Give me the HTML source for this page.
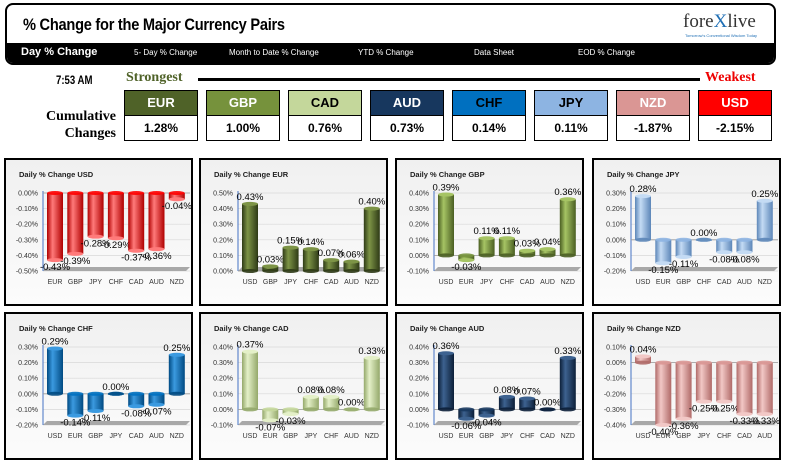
<!DOCTYPE html>
<html><head><meta charset="utf-8">
<style>
body{margin:0;width:793px;height:464px;background:#fff;position:relative;overflow:hidden;font-family:"Liberation Sans",sans-serif}
.abs{position:absolute}
#hdr{left:5px;top:3px;width:767px;height:58px;border:2px solid #000;border-radius:8px;overflow:hidden;background:#fff}
#title{left:16px;top:10px;font-weight:bold;font-size:17px;transform:scaleX(0.86);transform-origin:left;white-space:nowrap;letter-spacing:-0.3px}
#nav{left:0;top:38px;width:767px;height:20px;background:#000;color:#fff}
.nv{position:absolute;top:5px;font-size:8px;white-space:nowrap}
.box{position:absolute;width:72px;border:1px solid #000;text-align:center;font-weight:bold}
.bh{top:90px;height:24px;line-height:24px;font-size:13px}
.bv{top:115px;height:24px;line-height:24px;font-size:12px;background:#fff;color:#000}
</style></head><body>
<div id="hdr" class="abs">
 <div id="title" class="abs">% Change for the Major Currency Pairs</div>
 <div class="abs" style="left:676px;top:6px;font-family:'Liberation Serif',serif;font-size:19px;color:#333">fore<span style="color:#1f6fb5">X</span>live</div>
 <div class="abs" style="left:678px;top:28px;font-size:4px;color:#1f6fb5">Tomorrow's Conventional Wisdom Today</div>
 <div id="nav" class="abs">
  <span class="nv" style="left:14px;top:3px;font-size:11px;font-weight:bold">Day % Change</span>
  <span class="nv" style="left:127px">5- Day % Change</span>
  <span class="nv" style="left:222px">Month to Date % Change</span>
  <span class="nv" style="left:351px">YTD % Change</span>
  <span class="nv" style="left:467px">Data Sheet</span>
  <span class="nv" style="left:571px">EOD % Change</span>
 </div>
</div>
<div class="abs" style="left:56px;top:73px;font-weight:bold;font-size:12px;transform:scaleX(0.8);transform-origin:left">7:53 AM</div>
<div class="abs" style="left:126px;top:70px;font-weight:bold;font-size:14px;color:#4f6228;font-family:'Liberation Serif',serif">Strongest</div>
<div class="abs" style="left:198px;top:78px;width:502px;height:3px;background:#000"></div>
<div class="abs" style="left:705px;top:70px;font-weight:bold;font-size:14px;color:#e00;font-family:'Liberation Serif',serif">Weakest</div>
<div class="abs" style="left:20px;top:108px;width:96px;text-align:right;font-weight:bold;font-size:14px;line-height:17px;font-family:'Liberation Serif',serif">Cumulative<br>Changes</div>
<div id="boxes"></div>
<svg id="charts" class="abs" style="left:0;top:0" width="793" height="464"></svg>
<script>
const boxCur=["EUR","GBP","CAD","AUD","CHF","JPY","NZD","USD"];
const boxVals=["1.28%","1.00%","0.76%","0.73%","0.14%","0.11%","-1.87%","-2.15%"];
const boxBg=["#4f6228","#76923c","#c4d79b","#17375e","#0070c0","#8db4e2","#da9694","#ff0000"];
const boxFg=["#fff","#fff","#000","#fff","#000","#000","#fff","#fff"];
const bx=document.getElementById('boxes');
boxCur.forEach((c,i)=>{
 const h=document.createElement('div');h.className='box bh';h.style.left=(124+i*82)+'px';h.style.background=boxBg[i];h.style.color=boxFg[i];h.textContent=c;
 
 
 bx.appendChild(h);
 const v=document.createElement('div');v.className='box bv';v.style.left=(124+i*82)+'px';v.textContent=boxVals[i];
 
 
 bx.appendChild(v);
});

const usdCats=["EUR","GBP","JPY","CHF","CAD","AUD","NZD"];
const usdVals=[-0.43,-0.39,-0.28,-0.29,-0.37,-0.36,-0.04];
const eurCats=["USD","GBP","JPY","CHF","CAD","AUD","NZD"];
const eurVals=[0.43,0.03,0.15,0.14,0.07,0.06,0.40];
const gbpCats=["USD","EUR","JPY","CHF","CAD","AUD","NZD"];
const gbpVals=[0.39,-0.03,0.11,0.11,0.03,0.04,0.36];
const jpyCats=["USD","EUR","GBP","CHF","CAD","AUD","NZD"];
const jpyVals=[0.28,-0.15,-0.11,0.00,-0.08,-0.08,0.25];
const chfCats=["USD","EUR","GBP","JPY","CAD","AUD","NZD"];
const chfVals=[0.29,-0.14,-0.11,0.00,-0.08,-0.07,0.25];
const cadCats=["USD","EUR","GBP","JPY","CHF","AUD","NZD"];
const cadVals=[0.37,-0.07,-0.03,0.08,0.08,0.00,0.33];
const audCats=["USD","EUR","GBP","JPY","CHF","CAD","NZD"];
const audVals=[0.36,-0.06,-0.04,0.08,0.07,0.00,0.33];
const nzdCats=["USD","EUR","GBP","JPY","CHF","CAD","AUD"];
const nzdVals=[0.04,-0.40,-0.36,-0.25,-0.25,-0.33,-0.33];
const axisMin=[-0.5,0,-0.1,-0.2,-0.2,-0.1,-0.1,-0.4];
const axisMax=[0,0.5,0.4,0.3,0.3,0.4,0.4,0.1];

const charts=[
 ["USD",usdCats,usdVals,"#ff0000","#ff7a7a","#b00000"],
 ["EUR",eurCats,eurVals,"#4f6228","#7d9446","#2e3a16"],
 ["GBP",gbpCats,gbpVals,"#76923c","#a6c464","#4a5e22"],
 ["JPY",jpyCats,jpyVals,"#8db4e2","#c4dbf4","#5c86b8"],
 ["CHF",chfCats,chfVals,"#0070c0","#3b9ae0","#004a82"],
 ["CAD",cadCats,cadVals,"#c4d79b","#e4f0c8","#94a86a"],
 ["AUD",audCats,audVals,"#17375e","#3d6290","#0c1f38"],
 ["NZD",nzdCats,nzdVals,"#da9694","#f2c8c6","#b06a68"]
];
const PX=[4,199,395,592],PY=[158,312];
const NS="http://www.w3.org/2000/svg";
const svg=document.getElementById('charts');
function el(t,a,p){const e=document.createElementNS(NS,t);for(const k in a)e.setAttribute(k,a[k]);(p||svg).appendChild(e);return e;}
const defs=el('defs',{});
const bg=el('linearGradient',{id:'pbg',x1:0,y1:0,x2:0,y2:1},defs);
el('stop',{offset:0,'stop-color':'#f0f0f0'},bg);el('stop',{offset:1,'stop-color':'#fcfcfc'},bg);
charts.forEach((c,ci)=>{
 const [name,cats,vals,col,light,dark]=c;
 const gx=PX[ci%4],gy=PY[Math.floor(ci/4)];
 const g=el('g',{transform:`translate(${gx},${gy})`});
 
 
 const gr=el('linearGradient',{id:'g'+ci,x1:0,y1:0,x2:1,y2:0},defs);
 el('stop',{offset:0,'stop-color':dark},gr);el('stop',{offset:0.35,'stop-color':light},gr);el('stop',{offset:1,'stop-color':dark},gr);
 el('rect',{x:1,y:1,width:187,height:146,fill:'url(#pbg)',stroke:'#000','stroke-width':2},g);
 const t=el('text',{x:15,y:19,'font-size':7.5,'font-weight':'bold',fill:'#222'},g);t.textContent='Daily % Change '+name;
 
 
 const mn=axisMin[ci],mx=axisMax[ci],top=35,bot=113;
 const y=v=>top+(mx-v)/(mx-mn)*(bot-top);
 const xc=i=>51+i*20.3;
 for(let k=0;k<=5;k++){
  const v=mn+k*(mx-mn)/5, yy=y(v);
  el('line',{x1:39,x2:186,y1:yy,y2:yy,stroke:'#d8d8d8','stroke-width':0.7},g);
  const tl=el('text',{x:34,y:yy+2.5,'font-size':7,'text-anchor':'end',fill:'#333'},g);tl.textContent=v.toFixed(2)+'%';
 }
 el('polygon',{points:`39,${bot} 182,${bot} 186,${bot-4} 43,${bot-4}`,fill:'#a8a8a8'},g);
 el('line',{x1:39,x2:39,y1:top-2,y2:bot,stroke:'#4472c4','stroke-width':1},g);
 const z=y(0);
 el('line',{x1:39,x2:186,y1:z,y2:z,stroke:'#999','stroke-width':0.8},g);
 cats.forEach((cat,i)=>{
  const v=vals[i],x=xc(i),ye=y(v),w=16;
  const y1=Math.min(z,ye),h=Math.abs(ye-z);
  const b=el('rect',{x:x-w/2,y:y1,width:w,height:Math.max(h,1),fill:'url(#g'+ci+')'},g);
  
  
  el('ellipse',{cx:x,cy:ye,rx:w/2,ry:2,fill:light},g);
  el('ellipse',{cx:x,cy:z,rx:w/2,ry:2,fill:v<0?col:dark,opacity:0.9},g);
  const lt=el('text',{x:x,y:v>=0?ye-4:ye+10,'font-size':9.5,'text-anchor':'middle',fill:'#000'},g);lt.textContent=v.toFixed(2)+'%';
  const cl=el('text',{x:x,y:126,'font-size':7,'text-anchor':'middle',fill:'#333'},g);cl.textContent=cat;
 });
});
</script>
</body></html>
